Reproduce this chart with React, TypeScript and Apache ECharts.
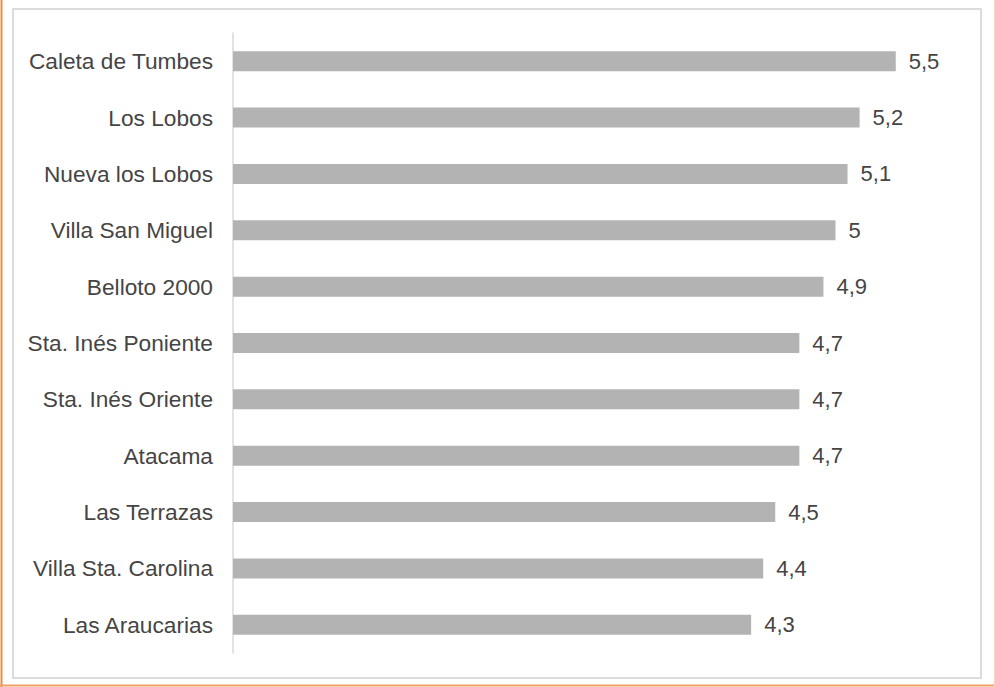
import React, { useEffect, useRef } from "react";
import * as echarts from "echarts";

const categories = [
  "Caleta de Tumbes",
  "Los Lobos",
  "Nueva los Lobos",
  "Villa San Miguel",
  "Belloto 2000",
  "Sta. Inés Poniente",
  "Sta. Inés Oriente",
  "Atacama",
  "Las Terrazas",
  "Villa Sta. Carolina",
  "Las Araucarias",
];
const values = [5.5, 5.2, 5.1, 5, 4.9, 4.7, 4.7, 4.7, 4.5, 4.4, 4.3];

const FONT = "'Liberation Sans', Arial, sans-serif";

export default function App() {
  const ref = useRef<HTMLDivElement>(null);
  useEffect(() => {
    if (!ref.current) return;
    const chart = echarts.init(ref.current, null, { renderer: "svg" });
    chart.setOption({
      animation: false,
      backgroundColor: "#ffffff",
      textStyle: { fontFamily: FONT },
      graphic: [
        {
          type: "rect",
          shape: { x: 13, y: 9, width: 968, height: 669 },
          style: { fill: "none", stroke: "#dcdcdc", lineWidth: 2 },
          silent: true,
        },
        {
          type: "line",
          shape: { x1: 1.5, y1: 0, x2: 1.5, y2: 687 },
          style: { stroke: "#f08a3c", lineWidth: 2 },
          silent: true,
        },
        {
          type: "line",
          shape: { x1: 0, y1: 685.5, x2: 995, y2: 685.5 },
          style: { stroke: "#f4a064", lineWidth: 2 },
          silent: true,
        },
        {
          type: "line",
          shape: { x1: 994.5, y1: 0, x2: 994.5, y2: 687 },
          style: { stroke: "#fbd5b8", lineWidth: 1 },
          silent: true,
        },
      ],
      grid: { left: 233, right: 39, top: 33, bottom: 34, containLabel: false },
      xAxis: {
        type: "value",
        min: 0,
        max: 6,
        show: false,
      },
      yAxis: {
        type: "category",
        data: categories,
        inverse: true,
        axisLine: { show: true, lineStyle: { color: "#d9d9d9", width: 1.5 } },
        axisTick: { show: false },
        splitLine: { show: false },
        axisLabel: {
          color: "#454545",
          fontSize: 22.7,
          margin: 20,
          fontFamily: FONT,
        },
      },
      series: [
        {
          type: "bar",
          data: values,
          barWidth: 20,
          itemStyle: { color: "#b3b3b3" },
          label: {
            show: true,
            position: "right",
            distance: 13,
            color: "#454545",
            fontSize: 22,
            fontFamily: FONT,
            formatter: (p: any) => String(p.value).replace(".", ","),
          },
        },
      ],
    });
    return () => chart.dispose();
  }, []);
  return (
    <div
      ref={ref}
      style={{ position: "fixed", left: 0, top: 0, width: 995, height: 687 }}
    />
  );
}
